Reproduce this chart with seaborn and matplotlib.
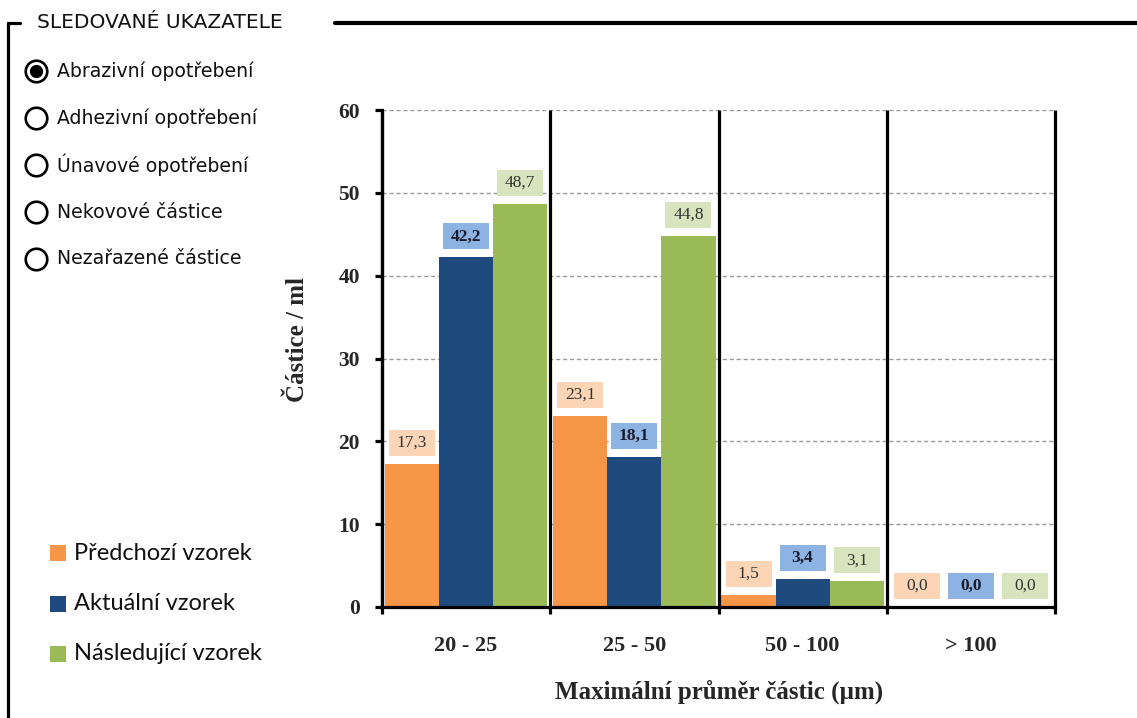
import numpy as np
import pandas as pd
import matplotlib
matplotlib.use("Agg")
import matplotlib.pyplot as plt
import seaborn as sns
from matplotlib.patches import Rectangle
from matplotlib.lines import Line2D

# ---- data -------------------------------------------------------------
categories = ["20 - 25", "25 - 50", "50 - 100", "> 100"]
series_names = ["Předchozí vzorek", "Aktuální vzorek", "Následující vzorek"]
predchozi = [17.3, 23.1, 1.5, 0.0]
aktualni = [42.2, 18.1, 3.4, 0.0]
nasledujici = [48.7, 44.8, 3.1, 0.0]
y_ticks = [0, 10, 20, 30, 40, 50, 60]

panel_title = "SLEDOVANÉ UKAZATELE"
indicators = ["Abrazivní opotřebení", "Adhezivní opotřebení", "Únavové opotřebení",
              "Nekovové částice", "Nezařazené částice"]
selected_indicator = 0

# ---- styling ----------------------------------------------------------
bar_colors = ["#F79646", "#1F4A7E", "#9BBB59"]
label_fills = ["#FBD5B5", "#8DB3E2", "#D7E4BD"]
SERIF = "Liberation Serif"

df = pd.DataFrame({
    "kategorie": categories * 3,
    "serie": np.repeat(series_names, len(categories)),
    "hodnota": predchozi + aktualni + nasledujici,
})

sns.set_theme(style="white")
plt.rcParams["font.family"] = ["DejaVu Sans"]

W, H = 1137, 718
fig = plt.figure(figsize=(W / 100, H / 100), dpi=100)
ax_l, ax_r, ax_t, ax_b = 382, 1055, 110, 607
ax = fig.add_axes([ax_l / W, 1 - ax_b / H, (ax_r - ax_l) / W, (ax_b - ax_t) / H])

sns.barplot(data=df, x="kategorie", y="hodnota", hue="serie",
            order=categories, hue_order=series_names, palette=bar_colors,
            width=0.965, gap=0, saturation=1, legend=False, ax=ax,
            linewidth=0, zorder=2)

ax.set_xlim(-0.5, len(categories) - 0.5)
ax.set_ylim(y_ticks[0], y_ticks[-1])

# pixel -> data conversion for decorations
px_x = (ax_r - ax_l) / (len(categories))
px_y = (ax_b - ax_t) / (y_ticks[-1] - y_ticks[0])

# dashed horizontal grid
for v in y_ticks[1:]:
    ax.axhline(v, color="#9a9a9a", lw=1.0, ls=(0, (3, 2)), zorder=1)

# thick separators between size classes
ax.vlines(np.arange(-0.5, len(categories)), ymin=-7 / px_y, ymax=y_ticks[-1],
          color="black", lw=2.3, clip_on=False, zorder=4)

for s in ["top", "right"]:
    ax.spines[s].set_visible(False)
for s in ["left", "bottom"]:
    ax.spines[s].set_linewidth(2.3)
    ax.spines[s].set_color("black")
    ax.spines[s].set_zorder(5)

ax.set_yticks(y_ticks)
ax.set_yticklabels([str(v) for v in y_ticks], fontfamily=SERIF,
                   fontweight="bold", fontsize=15.5)
ax.set_xticks(range(len(categories)))
ax.set_xticklabels(categories, fontfamily=SERIF, fontweight="bold", fontsize=16)
ax.tick_params(axis="y", direction="out", length=5, width=2.3, pad=11,
               color="black", left=True)
ax.tick_params(axis="x", length=0, pad=21)

ax.set_ylabel("Částice / ml", fontfamily=SERIF, fontweight="bold", fontsize=18)
ax.set_xlabel("Maximální průměr částic (µm)", fontfamily=SERIF,
              fontweight="bold", fontsize=18)
ax.yaxis.label.set_verticalalignment("center")
ax.yaxis.set_label_coords((297 - ax_l) / (ax_r - ax_l), (ax_b - 340) / (ax_b - ax_t))
ax.xaxis.label.set_verticalalignment("center")
ax.xaxis.set_label_coords((719 - ax_l) / (ax_r - ax_l), (ax_b - 692) / (ax_b - ax_t))

# value labels in tinted boxes above each bar
box_w, box_h, box_gap = 46 / px_x, 26 / px_y, 8 / px_y
for i, cont in enumerate(ax.containers):
    for bar in cont:
        xc = bar.get_x() + bar.get_width() / 2
        h = bar.get_height()
        ax.add_patch(Rectangle((xc - box_w / 2, h + box_gap), box_w, box_h,
                               facecolor=label_fills[i], lw=0, zorder=3,
                               clip_on=False))
        ax.text(xc, h + box_gap + box_h / 2, f"{h:.1f}".replace(".", ","),
                ha="center", va="center", fontfamily=SERIF, fontsize=12.5,
                fontweight="bold" if i == 1 else "normal",
                color="#1b1b2b" if i == 1 else "#333333", zorder=4)

# ---- side panel -------------------------------------------------------
def fx(px):
    return px / W


def fy(py):
    return 1 - py / H


fig.add_artist(Line2D([fx(8), fx(8)], [fy(23), 0], color="black", lw=2.3,
                      transform=fig.transFigure))
fig.add_artist(Line2D([fx(8), fx(20)], [fy(23), fy(23)], color="black", lw=2.3,
                      transform=fig.transFigure))
fig.add_artist(Line2D([fx(335), 1], [fy(23), fy(23)], color="black", lw=3,
                      transform=fig.transFigure))
fig.text(fx(37), fy(23), panel_title, ha="left", va="center",
         fontsize=14.6, color="#111111")

for k, name in enumerate(indicators):
    y = fy(71 + 47 * k)
    fig.add_artist(Line2D([fx(36)], [y], marker="o", markersize=15.5,
                          markerfacecolor="white", markeredgecolor="black",
                          markeredgewidth=1.9, transform=fig.transFigure))
    if k == selected_indicator:
        fig.add_artist(Line2D([fx(36)], [y], marker="o", markersize=8.5,
                              markerfacecolor="black", markeredgecolor="black",
                              transform=fig.transFigure))
    fig.text(fx(57), y, name, ha="left", va="center", fontsize=13.6,
             color="#111111")

for k, name in enumerate(series_names):
    yc = 553 + 50.5 * k
    fig.add_artist(Rectangle((fx(50), fy(yc + 8)), fx(16), 16 / H,
                             facecolor=bar_colors[k], lw=0,
                             transform=fig.transFigure))
    fig.text(fx(74), fy(yc), name, ha="left", va="center", fontsize=17,
             fontfamily="Lato", color="#111111")

fig.savefig("out.png", dpi=100, facecolor="white")
